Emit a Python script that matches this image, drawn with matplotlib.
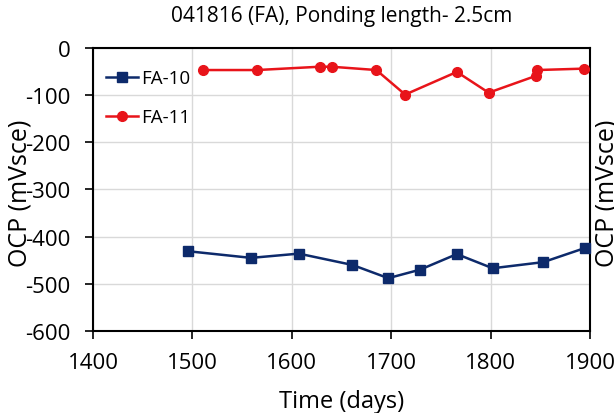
import matplotlib
matplotlib.use("Agg")
import matplotlib.pyplot as plt

plt.rcParams['font.family'] = ['Open Sans', 'DejaVu Sans']
plt.rcParams['axes.unicode_minus'] = False

fa10_days = [1496, 1559, 1607, 1661, 1697, 1729, 1766, 1802, 1853, 1895]
fa10_ocp = [-431, -445, -436, -460, -488, -470, -437, -467, -454, -424]
fa11_days = [1511, 1565, 1628, 1640, 1685, 1714, 1766, 1798, 1846, 1847, 1894]
fa11_ocp = [-47, -47, -40, -40, -47, -99, -51, -95, -59, -47, -44]

title = "041816 (FA), Ponding length- 2.5cm"

fig = plt.figure(figsize=(6.14, 4.14), dpi=100)
ax = fig.add_axes([0.1515, 0.198, 0.8095, 0.684])

ax.plot(fa10_days, fa10_ocp, color='#0d2a6b', marker='s', markersize=7, lw=1.8, label='FA-10', clip_on=False, zorder=3)
ax.plot(fa11_days, fa11_ocp, color='#e8141a', marker='o', markersize=7, lw=1.8, label='FA-11', clip_on=False, zorder=3)

ax.set_xlim(1400, 1900)
ax.set_ylim(-600, 0)
ax.set_xticks([1400, 1500, 1600, 1700, 1800, 1900])
ax.set_yticks([0, -100, -200, -300, -400, -500, -600])
ax.grid(True, color='#d9d9d9', lw=1)
ax.set_axisbelow(True)
for s in ax.spines.values():
    s.set_linewidth(1.5)
    s.set_color('black')
ax.tick_params(direction='out', length=6, width=1.2, labelsize=16)
ax.tick_params(axis='y', pad=10)
ax.tick_params(axis='x', pad=9)
ax.set_xlabel('Time (days)', fontsize=17)
ax.xaxis.set_label_coords(0.5, -0.205)
ax.set_ylabel('OCP (mVsce)', fontsize=18)
ax.yaxis.set_label_coords(-0.121, 0.49)
ax.set_title(title, fontsize=15, pad=19)

ax.legend(loc='upper left', frameon=False, fontsize=13.5, handlelength=1.7,
          handletextpad=0.15, labelspacing=1.1, bbox_to_anchor=(0.0, 0.97),
          borderaxespad=0.3)

fig.text(0.969, 0.534, 'OCP (mVsce)', rotation=90, fontsize=18, va='center', ha='left')

fig.savefig('out.png', dpi=100)
